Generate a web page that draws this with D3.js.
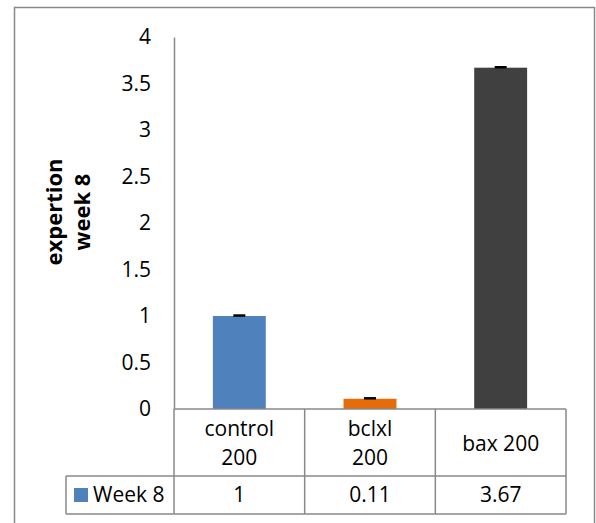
<!DOCTYPE html>
<html>
<head>
<meta charset="utf-8">
<script src="https://cdn.jsdelivr.net/npm/d3@7"></script>
<style>
  html, body { margin: 0; padding: 0; background: #fff; }
  svg { display: block; }
  text { font-family: "Open Sans", "Noto Sans", sans-serif; fill: #000; }
</style>
</head>
<body>
<svg id="chart" width="596" height="523"></svg>
<script>
const categories = [["control", "200"], ["bclxl", "200"], ["bax 200"]];
const categoryKeys = ["control 200", "bclxl 200", "bax 200"];
const seriesName = "Week 8";
const values = [1, 0.11, 3.67];
const errors = [0.005, 0.005, 0.005];
const valueLabels = ["1", "0.11", "3.67"];
const barColors = ["#4f81bd", "#e46c0a", "#404040"];
const tickValues = [0, 0.5, 1, 1.5, 2, 2.5, 3, 3.5, 4];
const yTitle = ["expertion", "week 8"];

const svg = d3.select("#chart");
const grid = "#898989";
const fs = 21;

// outer frame
svg.append("rect").attr("x", 14.5).attr("y", 7.5).attr("width", 580).attr("height", 540)
  .attr("fill", "none").attr("stroke", grid).attr("stroke-width", 1.5);

const y = d3.scaleLinear().domain([0, 4]).range([409, 37]);
const x = d3.scaleBand().domain(categoryKeys).range([174, 566]).padding(0);
const barW = x.bandwidth() * 0.405;

// y axis
const yAxis = d3.axisLeft(y).tickValues(tickValues).tickSize(0).tickPadding(23)
  .tickFormat(d3.format("~g"));
const ga = svg.append("g").attr("transform", "translate(174,0)").call(yAxis);
ga.select(".domain").attr("stroke", grid).attr("stroke-width", 1.5);
ga.selectAll("text").attr("font-size", fs).attr("font-family", "'Open Sans', sans-serif").attr("fill", "#000");

// bars
svg.selectAll("rect.bar").data(values).enter().append("rect").attr("class", "bar")
  .attr("x", (d, i) => x(categoryKeys[i]) + (x.bandwidth() - barW) / 2)
  .attr("y", d => y(d))
  .attr("width", barW)
  .attr("height", d => y(0) - y(d))
  .attr("fill", (d, i) => barColors[i]);

// error caps
svg.selectAll("line.err").data(values).enter().append("line").attr("class", "err")
  .attr("x1", (d, i) => x(categoryKeys[i]) + x.bandwidth() / 2 - 6)
  .attr("x2", (d, i) => x(categoryKeys[i]) + x.bandwidth() / 2 + 6)
  .attr("y1", (d, i) => y(d + errors[i]))
  .attr("y2", (d, i) => y(d + errors[i]))
  .attr("stroke", "#000").attr("stroke-width", 2.5);

// data table
const rowTop = y(0), rowMid = 476, rowBot = 514, tableLeft = 66;
const tg = svg.append("g").attr("stroke", grid).attr("stroke-width", 1.5).attr("fill", "none");
tg.append("line").attr("x1", 174).attr("x2", 566).attr("y1", rowTop).attr("y2", rowTop);
tg.append("line").attr("x1", tableLeft).attr("x2", 566).attr("y1", rowMid).attr("y2", rowMid);
tg.append("line").attr("x1", tableLeft).attr("x2", 566).attr("y1", rowBot).attr("y2", rowBot);
tg.append("line").attr("x1", tableLeft).attr("x2", tableLeft).attr("y1", rowMid).attr("y2", rowBot);
const vx = categoryKeys.map(k => x(k)).concat([x.range()[1]]);
vx.forEach(v => tg.append("line").attr("x1", v).attr("x2", v).attr("y1", rowTop).attr("y2", rowBot));

// category labels
categories.forEach((lines, i) => {
  const cx = x(categoryKeys[i]) + x.bandwidth() / 2;
  const cy = (rowTop + rowMid) / 2 + 1;
  const lh = 29;
  lines.forEach((t, j) => {
    svg.append("text").attr("x", cx)
      .attr("y", cy + (j - (lines.length - 1) / 2) * lh)
      .attr("dy", "0.35em").attr("text-anchor", "middle").attr("font-size", fs).text(t);
  });
});

// value labels
valueLabels.forEach((t, i) => {
  svg.append("text").attr("x", x(categoryKeys[i]) + x.bandwidth() / 2)
    .attr("y", (rowMid + rowBot) / 2).attr("dy", "0.35em")
    .attr("text-anchor", "middle").attr("font-size", fs).text(t);
});

// legend key in table
svg.append("rect").attr("x", 74).attr("y", 488).attr("width", 14).attr("height", 14).attr("fill", barColors[0]);
svg.append("text").attr("x", 93).attr("y", (rowMid + rowBot) / 2).attr("dy", "0.35em")
  .attr("font-size", fs).text(seriesName);

// y title
yTitle.forEach((t, j) => {
  svg.append("text").attr("transform", `translate(${54 + j * 28},212) rotate(-90)`)
    .attr("dy", "0.35em").attr("text-anchor", "middle")
    .attr("font-size", 22).attr("font-weight", "bold").text(t);
});
</script>
</body>
</html>
